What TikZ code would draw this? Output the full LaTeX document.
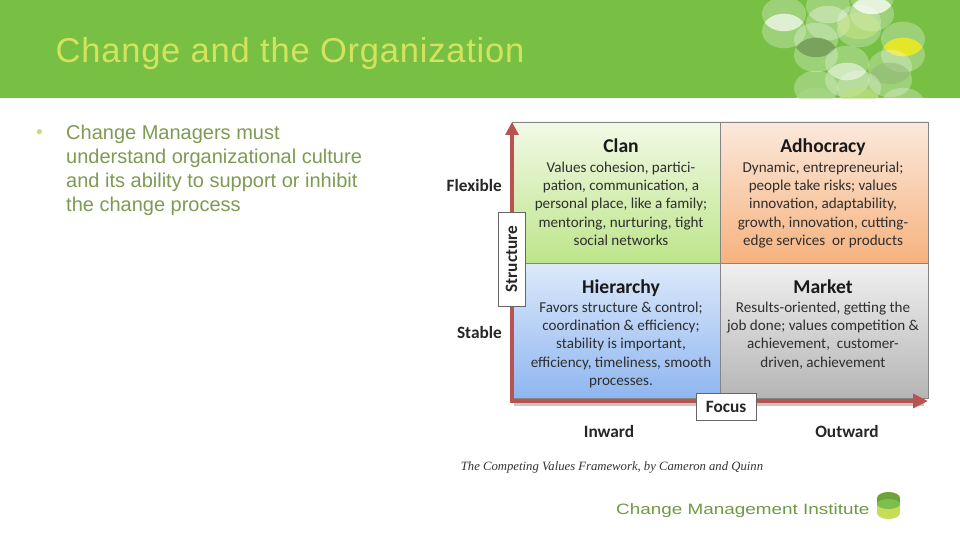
\documentclass[tikz,border=0pt]{standalone}
\usepackage{fontspec}
\setmainfont{Liberation Sans}
\newfontfamily\carl{Carlito}
\newfontfamily\serifit{Liberation Serif}
\newfontfamily\titlef[LetterSpace=2.25]{Liberation Sans}
\usetikzlibrary{arrows.meta}
\definecolor{hdr}{HTML}{77C043}
\definecolor{ttl}{HTML}{D4E35E}
\definecolor{bodyc}{HTML}{7F9A52}
\definecolor{bulc}{HTML}{C5DC80}
\definecolor{arr}{HTML}{B9534F}
\definecolor{cellb}{HTML}{858585}
\definecolor{logoc}{HTML}{6F9A45}
\definecolor{clanA}{HTML}{F2F9E6}\definecolor{clanB}{HTML}{BDE58A}
\definecolor{adhoA}{HTML}{FBE9DC}\definecolor{adhoB}{HTML}{F6B27E}
\definecolor{hierA}{HTML}{DCE9FA}\definecolor{hierB}{HTML}{8FB6F0}
\definecolor{markA}{HTML}{F0F0F0}\definecolor{markB}{HTML}{B5B5B5}
\definecolor{cylA}{HTML}{6FA23A}\definecolor{cylB}{HTML}{7DBF4D}\definecolor{cylC}{HTML}{C8DC58}
\tikzset{
  cell/.style={draw=cellb,line width=.9pt,minimum width=208pt,inner sep=0pt,outer sep=0pt},
  celltitle/.style={font=\carl\bfseries\fontsize{19.6}{22}\selectfont,text=black!90,inner sep=0pt,anchor=base},
  celltext/.style={font=\carl\fontsize{15.1}{18.4}\selectfont,text=black!82,align=center,inner sep=0pt,anchor=north},
  axis/.style={font=\carl\bfseries\fontsize{17.3}{20}\selectfont,text=black!85,inner sep=0pt},
  tagbox/.style={draw=gray!80!black,fill=white,line width=.7pt,inner sep=0pt,outer sep=0pt,font=\carl\bfseries\fontsize{17.3}{20}\selectfont,text=black!85},
  axisline/.style={draw=arr,line width=4pt},
  axisshadow/.style={draw=black,opacity=.22,line width=3pt}
}
\newcommand{\lenspair}[5]{% x y1 y2 lens-colour lens-opacity
  \fill[white,opacity=.28] (#1,#2) ellipse [x radius=22,y radius=17.3];
  \fill[white,opacity=.28] (#1,#3) ellipse [x radius=22,y radius=17.3];
  \begin{scope}
    \clip (#1,#2) ellipse [x radius=22,y radius=17.3];
    \fill[#4,opacity=#5] (#1,#3) ellipse [x radius=22,y radius=17.3];
  \end{scope}}
\begin{document}
\begin{tikzpicture}[x=1pt,y=-1pt]
\useasboundingbox (0,0) rectangle (960,540);
\fill[white] (0,0) rectangle (960,540);
% header band
\fill[hdr] (0,0) rectangle (960,98.5);
\begin{scope}
  \clip (0,0) rectangle (960,98.5);
  \lenspair{784}{14}{31}{white}{.55}
  \lenspair{828}{6}{23}{white}{.12}
  \lenspair{872}{-3}{14}{white}{.65}
  \lenspair{859}{22}{30}{hdr!60!yellow}{.25}
  \lenspair{816}{40}{55}{black!40!hdr}{.55}
  \lenspair{903}{39}{55}{yellow!85!hdr}{.85}
  \lenspair{847}{63}{80}{white}{.35}
  \lenspair{890}{67}{80}{hdr!75!black}{.35}
  \lenspair{816}{88}{105}{hdr}{.3}
  \lenspair{859}{88}{105}{hdr!70!yellow}{.35}
  \lenspair{903}{105}{120}{white}{.2}
\end{scope}
\node[anchor=base west,inner sep=0pt,text=ttl,font=\titlef\fontsize{34.5}{38}\selectfont] (title) at (55.5,63) {Change and the Organization};
% body
\node[anchor=base west,inner sep=0pt,text=bulc,font=\fontsize{19}{24}\selectfont] (bullet) at (36,139) {•};
\node[anchor=north west,inner sep=0pt,text=bodyc,align=left,font=\fontsize{20}{24}\selectfont] (body) at (66,124.5)
  {Change Managers must\\understand organizational culture\\and its ability to support or inhibit\\the change process};
% quadrants
\node[cell,minimum height=141pt,top color=clanA,bottom color=clanB,anchor=north west] (clan) at (512,122) {};
\node[cell,minimum height=141pt,top color=adhoA,bottom color=adhoB,anchor=north west] (adho) at (720,122) {};
\node[cell,minimum height=135pt,top color=hierA,bottom color=hierB,anchor=north west] (hier) at (512,263) {};
\node[cell,minimum height=135pt,top color=markA,bottom color=markB,anchor=north west] (mark) at (720,263) {};
% quadrant text
\node[celltitle] (clanT) at (621,153) {Clan};
\node[celltext] (clanTxt) at (621,161.5) {Values cohesion, partici-\\pation, communication, a\\personal place, like a family;\\mentoring, nurturing, tight\\social networks};
\node[celltitle] (adhoT) at (823,153) {Adhocracy};
\node[celltext] (adhoTxt) at (823,161.5) {Dynamic, entrepreneurial;\\people take risks; values\\innovation, adaptability,\\growth, innovation, cutting-\\edge services\ \ or products};
\node[celltitle] (hierT) at (621,293) {Hierarchy};
\node[celltext] (hierTxt) at (621,301.5) {Favors structure \& control;\\coordination \& efficiency;\\stability is important,\\efficiency, timeliness, smooth\\processes.};
\node[celltitle] (markT) at (823,293) {Market};
\node[celltext] (markTxt) at (823,301.5) {Results-oriented, getting the\\job done; values competition \&\\achievement,\ \ customer-\\driven, achievement};
% axes
\coordinate (corner) at (512,401);
\coordinate (ytip) at (512,122);
\coordinate (xtip) at (928,401);
\draw[axisshadow] (514,404) -- (924,404);
\draw[axisline,-{Triangle[length=13pt,width=13pt]}] (corner) -- (ytip);
\draw[axisline,-{Triangle[length=15pt,width=14pt]}] (510,401) -- (xtip);
\node[tagbox,minimum width=27pt,minimum height=94pt] (structure) at (511.5,259) {\rotatebox{90}{Structure}};
\node[tagbox,minimum width=60pt,minimum height=27pt] (focus) at (726,406.5) {Focus};
% axis labels
\node[axis,anchor=east] (flex) at (502,185) {Flexible};
\node[axis,anchor=east] (stab) at (502,332.5) {Stable};
\node[axis] (inw) at (609,431.5) {Inward};
\node[axis] (outw) at (847,431.5) {Outward};
% caption
\node[anchor=base,inner sep=0pt,text=black!80,font=\serifit\itshape\fontsize{12.7}{14}\selectfont] (cap) at (612,470) {The Competing Values Framework, by Cameron and Quinn};
% logo
\node[anchor=base west,inner sep=0pt,text=logoc] (logo) at (616,514.5) {\scalebox{1.26}[1]{\fontsize{15}{18}\selectfont Change Management Institute}};
\fill[cylC] (877,503) -- (877,513) arc[start angle=180,end angle=360,x radius=11.5,y radius=-6] -- (900,503) -- cycle;
\fill[cylA] (888.5,498) ellipse [x radius=11.5,y radius=6];
\fill[cylA] (877,498) rectangle (900,504);
\fill[cylB] (888.5,504) ellipse [x radius=11.5,y radius=5];
\end{tikzpicture}
\end{document}
